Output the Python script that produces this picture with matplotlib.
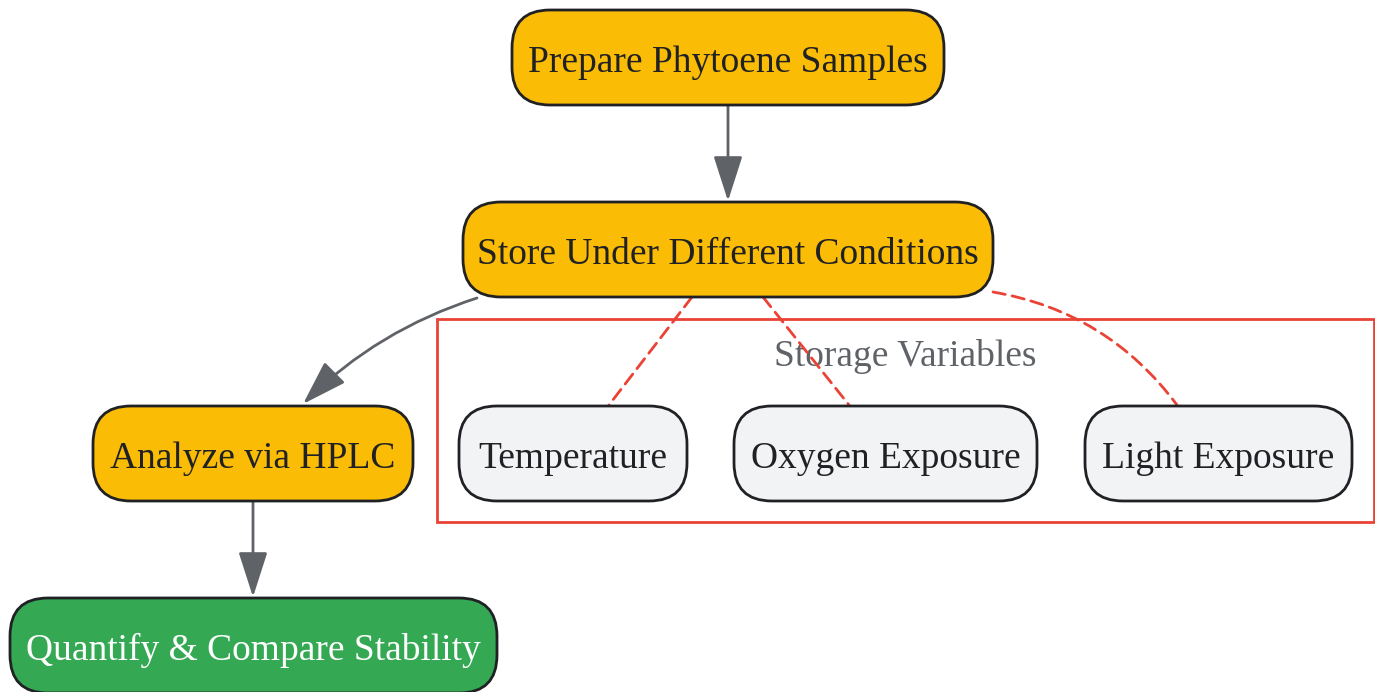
import matplotlib
matplotlib.use("Agg")
import matplotlib.pyplot as plt
from matplotlib.patches import FancyBboxPatch, FancyArrowPatch, Rectangle

plt.rcParams['font.family'] = ['Liberation Serif', 'DejaVu Serif']

# nodes: label, left, top, right, bottom (pixels), fill, text colour
labels = ["Prepare Phytoene Samples", "Store Under Different Conditions", "Analyze via HPLC",
          "Quantify & Compare Stability", "Temperature", "Oxygen Exposure", "Light Exposure"]
lefts = [512, 463, 93, 10, 459, 734, 1085]
tops = [10, 202, 406, 598, 406, 406, 406]
rights = [944, 993, 413, 497, 687, 1037, 1352]
bottoms = [105, 297, 501, 693, 501, 501, 501]
fills = ["#FBBC05", "#FBBC05", "#FBBC05", "#34A853", "#F1F3F4", "#F1F3F4", "#F1F3F4"]
text_cols = ["#202124", "#202124", "#202124", "#FFFFFF", "#202124", "#202124", "#202124"]

# solid edges (start, end, curvature)
solid_edges = [((728, 105), (728, 201), 0.0),
               ((477, 298), (303, 404), 0.12),
               ((253, 501), (253, 597), 0.0)]
# dashed edges from the store node to the variables
dashed_edges = [((692, 297), (609, 405), 0.0),
                ((763, 297), (849, 405), 0.0),
                ((993, 292), (1177, 405), -0.2)]

fig = plt.figure(figsize=(13.75, 6.92), dpi=100)
ax = fig.add_axes([0, 0, 1, 1])
ax.set_xlim(0, 1375)
ax.set_ylim(692, 0)
ax.axis("off")

# cluster box
ax.add_patch(Rectangle((437, 319), 1374 - 437, 522 - 319, facecolor="white",
                       edgecolor="#EA4335", lw=2, zorder=1))
ax.text(905, 357, "Storage Variables", ha="center", va="center", fontsize=27,
        color="#5F6368", zorder=2)

for lab, l, t, r, b, fc, tc in zip(labels, lefts, tops, rights, bottoms, fills, text_cols):
    box = FancyBboxPatch((l, t), r - l, b - t, boxstyle="round,pad=0,rounding_size=38",
                         facecolor=fc, edgecolor="#202124", lw=2, zorder=3)
    ax.add_patch(box)
    ax.text((l + r) / 2, (t + b) / 2 + 5, lab, ha="center", va="center", fontsize=27,
            color=tc, zorder=4)

for (p0, p1, rad) in solid_edges:
    arr = FancyArrowPatch(p0, p1, connectionstyle="arc3,rad=%s" % rad,
                          arrowstyle="-|>,head_length=1.4,head_width=0.45",
                          mutation_scale=20, color="#5F6368", lw=2,
                          shrinkA=0, shrinkB=0, zorder=2)
    ax.add_patch(arr)

for (p0, p1, rad) in dashed_edges:
    arr = FancyArrowPatch(p0, p1, connectionstyle="arc3,rad=%s" % rad,
                          arrowstyle="-", color="#EA4335", lw=2, linestyle=(0, (4.5, 2.5)),
                          shrinkA=0, shrinkB=0, zorder=2)
    ax.add_patch(arr)

plt.savefig("out.png", dpi=100)
